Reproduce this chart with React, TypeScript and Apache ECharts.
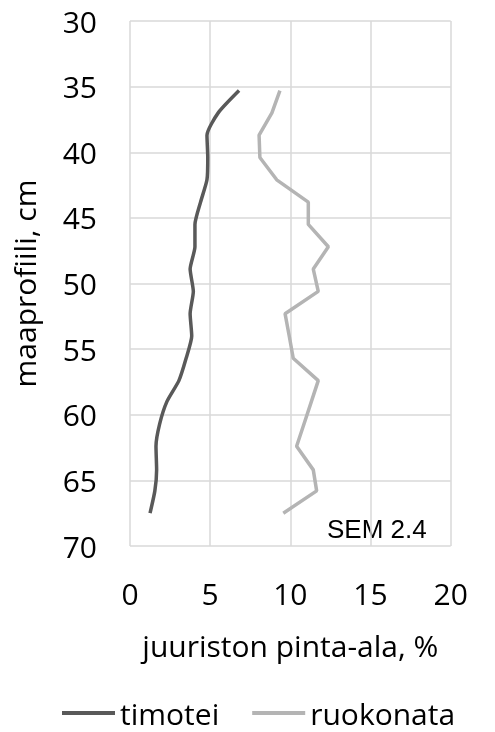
import React, { useEffect, useRef } from "react";
import * as echarts from "echarts";

const depths = [35.3, 37.0, 38.7, 40.4, 42.1, 43.8, 45.5, 47.2, 48.9, 50.6, 52.3, 54.0, 55.7, 57.4, 59.0, 60.7, 62.4, 64.2, 65.8, 67.5];
const timotei = [6.8, 5.5, 4.8, 4.85, 4.8, 4.4, 4.05, 4.05, 3.75, 3.95, 3.75, 3.85, 3.5, 3.05, 2.3, 1.85, 1.62, 1.66, 1.55, 1.25];
const ruokonata = [9.35, 8.85, 8.05, 8.1, 9.15, 11.12, 11.12, 12.37, 11.43, 11.74, 9.67, 9.93, 10.18, 11.74, 11.31, 10.85, 10.39, 11.43, 11.64, 9.56];
const seriesNames = ["timotei", "ruokonata"];
const xAxisName = "juuriston pinta-ala, %";
const yAxisName = "maaprofiili, cm";
const semLabel = "SEM 2.4";

const FONT = "'Open Sans', 'Noto Sans', sans-serif";

export default function App() {
  const ref = useRef<HTMLDivElement>(null);
  useEffect(() => {
    if (!ref.current) return;
    const chart = echarts.init(ref.current, null, { renderer: "svg" });
    const toPairs = (vals: number[]) => vals.map((v, i) => [v, depths[i]]);
    chart.setOption({
      animation: false,
      grid: { left: 130, right: 44.3, top: 21, bottom: 186, containLabel: false },
      legend: {
        left: 62,
        top: 698,
        padding: 0,
        icon: "rect",
        itemWidth: 53,
        itemHeight: 4,
        itemGap: 33,
        textStyle: { fontFamily: FONT, fontSize: 30, lineHeight: 30, color: "#000" },
        data: seriesNames,
      },
      xAxis: {
        type: "value",
        min: 0,
        max: 20,
        interval: 5,
        name: xAxisName,
        nameLocation: "middle",
        nameGap: 84,
        nameTextStyle: { fontFamily: FONT, fontSize: 30, color: "#000" },
        axisLine: { show: false },
        axisTick: { show: false },
        axisLabel: { fontFamily: FONT, fontSize: 30, color: "#000", margin: 32 },
        splitLine: { show: true, lineStyle: { color: "#d9d9d9", width: 1.5 } },
      },
      yAxis: {
        type: "value",
        inverse: true,
        min: 30,
        max: 70,
        interval: 5,
        name: yAxisName,
        nameLocation: "middle",
        nameGap: 91,
        nameTextStyle: { fontFamily: FONT, fontSize: 30, color: "#000" },
        axisLine: { show: false },
        axisTick: { show: false },
        axisLabel: { fontFamily: FONT, fontSize: 30, color: "#000", margin: 33 },
        splitLine: { show: true, lineStyle: { color: "#d9d9d9", width: 1.5 } },
      },
      graphic: [
        {
          type: "text",
          left: 327,
          top: 516,
          style: { text: semLabel, fontFamily: "'Liberation Sans', Arial, sans-serif", fontSize: 26, fill: "#000" },
        },
      ],
      series: [
        {
          name: seriesNames[0],
          type: "line",
          data: toPairs(timotei),
          showSymbol: false,
          symbol: "none",
          smooth: 0.2,
          lineStyle: { color: "#595959", width: 3.5 },
          itemStyle: { color: "#595959" },
        },
        {
          name: seriesNames[1],
          type: "line",
          data: toPairs(ruokonata),
          showSymbol: false,
          symbol: "none",
          lineStyle: { color: "#b4b4b4", width: 3.5 },
          itemStyle: { color: "#b4b4b4" },
        },
      ],
    });
    return () => chart.dispose();
  }, []);
  return <div ref={ref} style={{ position: "fixed", left: 0, top: 0, width: 495, height: 732 }} />;
}
